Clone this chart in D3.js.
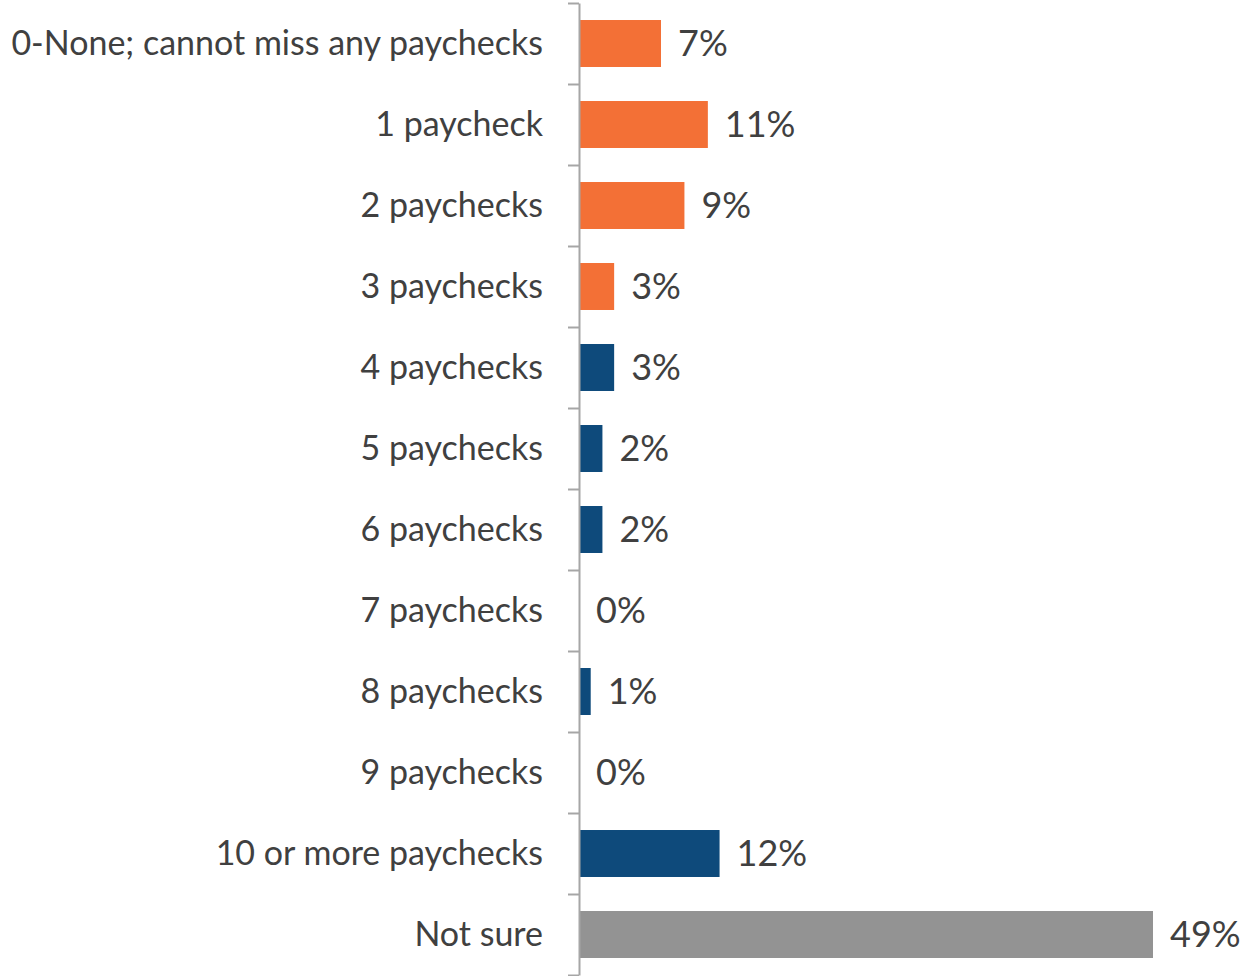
<!DOCTYPE html>
<html>
<head>
<meta charset="utf-8">
<script src="https://cdn.jsdelivr.net/npm/d3@7"></script>
<style>
  body { margin: 0; background: #fff; }
  svg text { font-family: Lato, "Open Sans", sans-serif; fill: #404040; }
</style>
</head>
<body>
<svg></svg>
<script>
// data
let categories = ['0-None; cannot miss any paychecks', '1 paycheck', '2 paychecks', '3 paychecks',
    '4 paychecks', '5 paychecks', '6 paychecks', '7 paychecks', '8 paychecks', '9 paychecks',
    '10 or more paychecks', 'Not sure']
let values = [7, 11, 9, 3, 3, 2, 2, 0, 1, 0, 12, 49]
let groups = ['low', 'low', 'low', 'low', 'high', 'high', 'high', 'high', 'high', 'high', 'high', 'unsure']
let groupColors = { low: '#f37036', high: '#0e4a7b', unsure: '#939393' }

let rows = categories.map((c, i) => ({ category: c, value: values[i], group: groups[i] }))

// canvas dimensions
let width = 1245
let height = 976
let axisX = 579
let plotTop = 3
let plotBottom = 975

let svg = d3.select('svg')
    .attr('width', width)
    .attr('height', height)

// scales
let xScale = d3.scaleLinear()
    .domain([0, 49])
    .range([axisX, 1153])

let yScale = d3.scaleBand()
    .domain(categories)
    .range([plotTop, plotBottom])
    .paddingInner(0.42)
    .paddingOuter(0.21)

// boundaries between categories, used for the tick marks
let edgeScale = d3.scaleLinear()
    .domain([0, categories.length])
    .range([plotTop, plotBottom])

// bars
svg.selectAll('rect.bar')
    .data(rows)
    .enter()
    .append('rect')
    .attr('class', 'bar')
    .attr('x', xScale(0))
    .attr('y', (d) => yScale(d.category))
    .attr('width', (d) => xScale(d.value) - xScale(0))
    .attr('height', yScale.bandwidth())
    .attr('fill', (d) => groupColors[d.group])

// axis line with ticks between categories
let axis = d3.axisLeft(edgeScale)
    .tickValues(d3.range(categories.length + 1))
    .tickFormat('')
    .tickSize(11)
    .tickSizeOuter(0)

let axisG = svg.append('g')
    .attr('transform', 'translate(' + axisX + ', 0)')
    .call(axis)
axisG.select('.domain').attr('stroke', '#a6a6a6').attr('stroke-width', 2)
axisG.selectAll('.tick line').attr('stroke', '#a6a6a6').attr('stroke-width', 2)

// category labels
svg.selectAll('text.cat')
    .data(rows)
    .enter()
    .append('text')
    .attr('class', 'cat')
    .attr('x', axisX - 36)
    .attr('y', (d) => yScale(d.category) + yScale.bandwidth() / 2)
    .attr('dy', '0.35em')
    .attr('text-anchor', 'end')
    .style('font-size', '34px')
    .text((d) => d.category)

// value labels
svg.selectAll('text.val')
    .data(rows)
    .enter()
    .append('text')
    .attr('class', 'val')
    .attr('x', (d) => xScale(d.value) + 17)
    .attr('y', (d) => yScale(d.category) + yScale.bandwidth() / 2)
    .attr('dy', '0.35em')
    .style('font-size', '36px')
    .text((d) => d.value + '%')
</script>
</body>
</html>
